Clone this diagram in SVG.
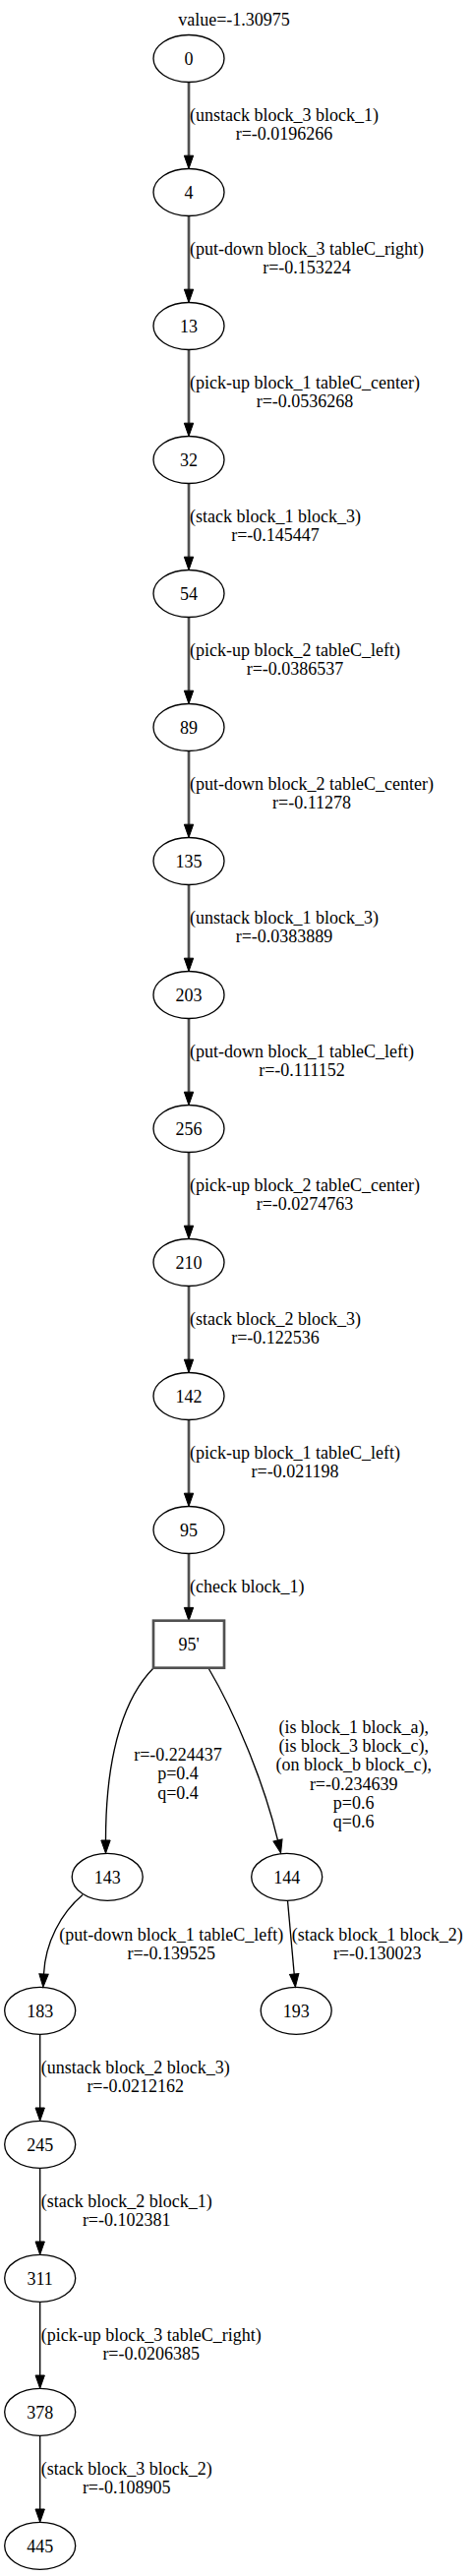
<svg xmlns="http://www.w3.org/2000/svg" width="479" height="2619" viewBox="0 0 479 2619">
<style>
text{font-family:"Liberation Serif","Times New Roman",serif;font-size:18px;fill:#000;text-anchor:middle}
.n ellipse{fill:none;stroke:#000;stroke-width:1.33}
.n rect{fill:none;stroke:#505050;stroke-width:2.67}
.e path{fill:none}
.thick{stroke:#505050;stroke-width:2.67}
.thin{stroke:#000;stroke-width:1.33}
</style>
<defs>
<marker id="ah" markerUnits="userSpaceOnUse" markerWidth="15" markerHeight="11" refX="0.5" refY="5.5" orient="auto" viewBox="0 0 15 11" overflow="visible">
<path d="M0.5,0.83 L13.8,5.5 L0.5,10.17 Z" fill="#000" stroke="#000" stroke-width="1"/>
</marker>
</defs>
<rect width="479" height="2619" fill="#fff"/>
<text x="238" y="25.5">value=-1.30975</text>

<g id="connectors" class="e">
<path class="thick" d="M192,83.5 V158.2" marker-end="url(#ah)"/>
<path class="thick" d="M192,219.5 V294.2" marker-end="url(#ah)"/>
<path class="thick" d="M192,355.5 V430.2" marker-end="url(#ah)"/>
<path class="thick" d="M192,491.5 V566.2" marker-end="url(#ah)"/>
<path class="thick" d="M192,627.5 V702.2" marker-end="url(#ah)"/>
<path class="thick" d="M192,763.5 V838.2" marker-end="url(#ah)"/>
<path class="thick" d="M192,899.5 V974.2" marker-end="url(#ah)"/>
<path class="thick" d="M192,1035.5 V1110.2" marker-end="url(#ah)"/>
<path class="thick" d="M192,1171.5 V1246.2" marker-end="url(#ah)"/>
<path class="thick" d="M192,1307.5 V1382.2" marker-end="url(#ah)"/>
<path class="thick" d="M192,1443.5 V1518.2" marker-end="url(#ah)"/>
<path class="thick" d="M192,1579.5 V1634.4" marker-end="url(#ah)"/>
<path class="thin" d="M156,1696 C130,1722 107.5,1775 107.5,1871" marker-end="url(#ah)"/>
<path class="thin" d="M212.3,1696.5 C238,1740 268,1810 282.5,1871" marker-end="url(#ah)"/>
<path class="thin" d="M84,1926.5 C62,1945 46,1975 44.5,2007" marker-end="url(#ah)"/>
<path class="thin" d="M292.5,1932.3 L299.2,2007" marker-end="url(#ah)"/>
<path class="thin" d="M40.7,2068.3 V2143" marker-end="url(#ah)"/>
<path class="thin" d="M40.7,2204.3 V2279" marker-end="url(#ah)"/>
<path class="thin" d="M40.7,2340.3 V2415" marker-end="url(#ah)"/>
<path class="thin" d="M40.7,2476.3 V2551" marker-end="url(#ah)"/>

<text x="289" y="123">(unstack block_3 block_1)</text><text x="289" y="142">r=-0.0196266</text>
<text x="312" y="259">(put-down block_3 tableC_right)</text><text x="312" y="278">r=-0.153224</text>
<text x="310" y="395">(pick-up block_1 tableC_center)</text><text x="310" y="414">r=-0.0536268</text>
<text x="280" y="531">(stack block_1 block_3)</text><text x="280" y="550">r=-0.145447</text>
<text x="300" y="667">(pick-up block_2 tableC_left)</text><text x="300" y="686">r=-0.0386537</text>
<text x="317" y="803">(put-down block_2 tableC_center)</text><text x="317" y="822">r=-0.11278</text>
<text x="289" y="939">(unstack block_1 block_3)</text><text x="289" y="958">r=-0.0383889</text>
<text x="307" y="1075">(put-down block_1 tableC_left)</text><text x="307" y="1094">r=-0.111152</text>
<text x="310" y="1211">(pick-up block_2 tableC_center)</text><text x="310" y="1230">r=-0.0274763</text>
<text x="280" y="1347">(stack block_2 block_3)</text><text x="280" y="1366">r=-0.122536</text>
<text x="300" y="1483">(pick-up block_1 tableC_left)</text><text x="300" y="1502">r=-0.021198</text>
<text x="251.2" y="1618.5">(check block_1)</text>
<text x="181" y="1790">r=-0.224437</text><text x="181" y="1809.3">p=0.4</text><text x="181" y="1828.6">q=0.4</text>
<text x="359.7" y="1761.7">(is block_1 block_a),</text>
<text x="359.7" y="1781">(is block_3 block_c),</text>
<text x="359.7" y="1800.3">(on block_b block_c),</text>
<text x="359.7" y="1819.6">r=-0.234639</text>
<text x="359.7" y="1838.9">p=0.6</text>
<text x="359.7" y="1858.2">q=0.6</text>
<text x="174.3" y="1972.7">(put-down block_1 tableC_left)</text><text x="174.3" y="1991.7">r=-0.139525</text>
<text x="383.7" y="1972.7">(stack block_1 block_2)</text><text x="383.7" y="1991.7">r=-0.130023</text>
<text x="137.7" y="2107.8">(unstack block_2 block_3)</text><text x="137.7" y="2126.8">r=-0.0212162</text>
<text x="128.7" y="2243.8">(stack block_2 block_1)</text><text x="128.7" y="2262.8">r=-0.102381</text>
<text x="153.7" y="2379.8">(pick-up block_3 tableC_right)</text><text x="153.7" y="2398.8">r=-0.0206385</text>
<text x="128.7" y="2515.8">(stack block_3 block_2)</text><text x="128.7" y="2534.8">r=-0.108905</text>
</g>

<g id="n0" class="n"><ellipse cx="192" cy="59.5" rx="36" ry="24"/><text x="192" y="65.8">0</text></g>
<g id="n4" class="n"><ellipse cx="192" cy="195.5" rx="36" ry="24"/><text x="192" y="201.8">4</text></g>
<g id="n13" class="n"><ellipse cx="192" cy="331.5" rx="36" ry="24"/><text x="192" y="337.8">13</text></g>
<g id="n32" class="n"><ellipse cx="192" cy="467.5" rx="36" ry="24"/><text x="192" y="473.8">32</text></g>
<g id="n54" class="n"><ellipse cx="192" cy="603.5" rx="36" ry="24"/><text x="192" y="609.8">54</text></g>
<g id="n89" class="n"><ellipse cx="192" cy="739.5" rx="36" ry="24"/><text x="192" y="745.8">89</text></g>
<g id="n135" class="n"><ellipse cx="192" cy="875.5" rx="36" ry="24"/><text x="192" y="881.8">135</text></g>
<g id="n203" class="n"><ellipse cx="192" cy="1011.5" rx="36" ry="24"/><text x="192" y="1017.8">203</text></g>
<g id="n256" class="n"><ellipse cx="192" cy="1147.5" rx="36" ry="24"/><text x="192" y="1153.8">256</text></g>
<g id="n210" class="n"><ellipse cx="192" cy="1283.5" rx="36" ry="24"/><text x="192" y="1289.8">210</text></g>
<g id="n142" class="n"><ellipse cx="192" cy="1419.5" rx="36" ry="24"/><text x="192" y="1425.8">142</text></g>
<g id="n95" class="n"><ellipse cx="192" cy="1555.5" rx="36" ry="24"/><text x="192" y="1561.8">95</text></g>
<g id="n95p" class="n"><rect x="156" y="1647.7" width="72" height="48"/><text x="192" y="1677.5">95'</text></g>
<g id="n143" class="n"><ellipse cx="109.2" cy="1908.3" rx="36" ry="24"/><text x="109.2" y="1914.6">143</text></g>
<g id="n144" class="n"><ellipse cx="291.7" cy="1908.3" rx="36" ry="24"/><text x="291.7" y="1914.6">144</text></g>
<g id="n183" class="n"><ellipse cx="40.7" cy="2044.3" rx="36" ry="24"/><text x="40.7" y="2050.6">183</text></g>
<g id="n193" class="n"><ellipse cx="301.2" cy="2044.3" rx="36" ry="24"/><text x="301.2" y="2050.6">193</text></g>
<g id="n245" class="n"><ellipse cx="40.7" cy="2180.3" rx="36" ry="24"/><text x="40.7" y="2186.6">245</text></g>
<g id="n311" class="n"><ellipse cx="40.7" cy="2316.3" rx="36" ry="24"/><text x="40.7" y="2322.6">311</text></g>
<g id="n378" class="n"><ellipse cx="40.7" cy="2452.3" rx="36" ry="24"/><text x="40.7" y="2458.6">378</text></g>
<g id="n445" class="n"><ellipse cx="40.7" cy="2588.3" rx="36" ry="24"/><text x="40.7" y="2594.6">445</text></g>
</svg>
